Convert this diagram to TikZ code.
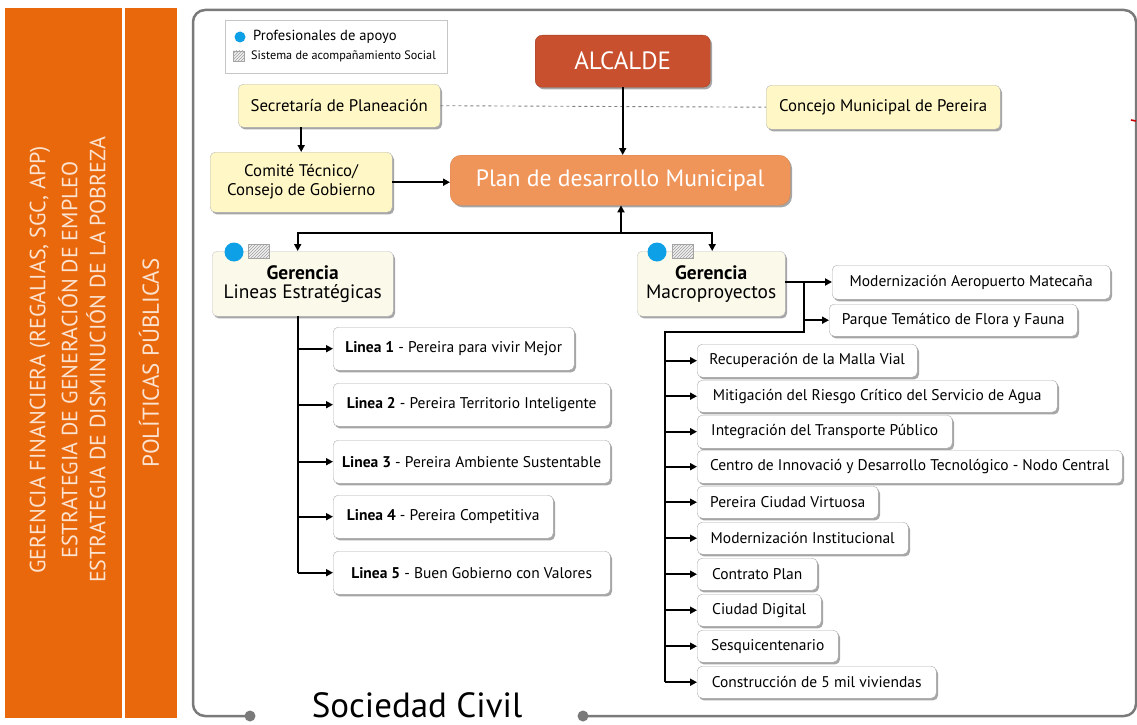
\documentclass[tikz,border=0pt]{standalone}
\usepackage{fontspec}
\setmainfont{PT Sans}
\usetikzlibrary{arrows.meta,shadows,patterns,calc}
\definecolor{barorange}{HTML}{E9680C}
\definecolor{bartext}{HTML}{FCE3D0}
\definecolor{alcred}{HTML}{C9502F}
\definecolor{planor}{HTML}{F0955A}
\definecolor{yelbox}{HTML}{FFF8C6}
\definecolor{cream}{HTML}{FBF9EA}
\definecolor{bluedot}{HTML}{0EA0E6}
\definecolor{framegray}{HTML}{7A7A7A}
\begin{document}
\begin{tikzpicture}[x=1pt,y=-1pt,
  shd/.style={drop shadow={shadow xshift=1.8pt,shadow yshift=-2.2pt,opacity=0.35,fill=black}},
  basebox/.style={shd,rounded corners=5pt,anchor=north west,inner xsep=3pt,inner ysep=0pt},
  yel/.style={basebox,draw=gray!55,fill=yelbox,font=\fontsize{16.8}{19}\selectfont},
  item/.style={basebox,draw=gray!65,fill=white,font=\fontsize{15.5}{18}\selectfont},
  ger/.style={basebox,draw=gray!45,fill=cream,font=\fontsize{19.4}{21}\selectfont,align=center},
  arr/.style={-{Triangle[length=7pt,width=7pt]},line width=1.8pt},
  ln/.style={line width=1.8pt},
  hatch/.style={draw=gray!70,fill=gray!12,postaction={pattern=north east lines,pattern color=gray!75},inner sep=0pt},
  dot/.style={circle,fill=bluedot,inner sep=0pt},
  bartxt/.style={rotate=90,text=bartext,font=\fontsize{22}{24}\selectfont}]
\useasboundingbox (0,0) rectangle (1137,725);
% side bars
\fill[barorange] (5,8) rectangle (122,718);
\fill[barorange] (125,8) rectangle (177,718);
\node[bartxt] (b1) at (40,360) {GERENCIA FINANCIERA (REGALIAS, SGC, APP)};
\node[bartxt] (b2) at (68,360) {ESTRATEGIA DE GENERACIÓN DE EMPLEO};
\node[bartxt] (b3) at (96,360) {ESTRATEGIA DE DISMINUCIÓN DE LA POBREZA};
\node[bartxt,font=\fontsize{23}{25}\selectfont] (b4) at (149,363) {POLÍTICAS PÚBLICAS};
% frame
\draw[framegray,line width=2.5pt,rounded corners=12pt] (250,716) -- (193,716) -- (193,10) -- (1136,10) -- (1136,716) -- (583,716);
\fill[framegray] (250,716) circle (5.5pt);
\fill[framegray] (583,716) circle (5.5pt);
\node[anchor=base,font=\fontsize{35}{37}\selectfont,inner sep=0pt] (soc) at (417,717) {Sociedad Civil};
\draw[red!80!black,line width=1.6pt] (1131,120) -- (1136,121);
% legend
\draw[gray!45,fill=white] (225,20) rectangle (447,73);
\node[dot,minimum size=11pt] (ld) at (240,37) {};
\node[anchor=west,font=\fontsize{14.6}{16}\selectfont,inner sep=0pt] (lt1) at (253,37) {Profesionales de apoyo};
\node[hatch,minimum width=11pt,minimum height=10pt] (lh) at (239,56) {};
\node[anchor=west,font=\fontsize{12.2}{14}\selectfont,inner sep=0pt] (lt2) at (251,56) {Sistema de acompañamiento Social};
% top boxes
\node[yel,minimum width=202pt,minimum height=43pt] (sec) at (238,84) {Secretaría de Planeación};
\node[yel,minimum width=234pt,minimum height=44pt] (con) at (766,85) {Concejo Municipal de Pereira};
\node[yel,minimum width=182pt,minimum height=60pt,align=center] (com) at (210,152) {Comité Técnico/\\Consejo de Gobierno};
\node[basebox,draw=alcred!80!black,fill=alcred,text=white,font=\fontsize{25}{28}\selectfont,minimum width=175pt,minimum height=52pt,rounded corners=7pt] (alc) at (535,35) {ALCALDE};
\node[basebox,draw=planor!90!black,fill=planor,text=white,font=\fontsize{23.6}{27}\selectfont,minimum width=340pt,minimum height=50pt,rounded corners=11pt] (plan) at (450,155) {Plan de desarrollo Municipal};
% gerencias
\node[ger,minimum width=181pt,minimum height=65pt] (gle) at (212,251) {\textbf{Gerencia}\\[-2pt]Lineas Estratégicas};
\node[ger,minimum width=148pt,minimum height=65pt] (gmp) at (637,251) {\textbf{Gerencia}\\[-2pt]Macroproyectos};
\node[dot,minimum size=19pt] (d1) at (234,252) {};
\node[hatch,minimum width=21pt,minimum height=14pt] (h1) at (259,251) {};
\node[dot,minimum size=19pt] (d2) at (657,252) {};
\node[hatch,minimum width=21pt,minimum height=14pt] (h2) at (683,251) {};
% lineas
\node[item,minimum width=241pt,minimum height=43pt] (l1) at (333,327) {\textbf{Linea 1} - Pereira para vivir Mejor};
\node[item,minimum width=277pt,minimum height=43pt] (l2) at (333,383) {\textbf{Linea 2} - Pereira Territorio Inteligente};
\node[item,minimum width=277pt,minimum height=43pt] (l3) at (333,440) {\textbf{Linea 3} - Pereira Ambiente Sustentable};
\node[item,minimum width=220pt,minimum height=43pt] (l4) at (333,495) {\textbf{Linea 4} - Pereira Competitiva};
\node[item,minimum width=277pt,minimum height=43pt] (l5) at (333,551) {\textbf{Linea 5} - Buen Gobierno con Valores};
% macroproyectos
\node[item,minimum width=278pt,minimum height=34pt] (mod) at (832,265) {Modernización Aeropuerto Matecaña};
\node[item,minimum width=248pt,minimum height=32pt] (par) at (829,304) {Parque Temático de Flora y Fauna};
\node[item,minimum width=220pt,minimum height=33pt] (m1) at (697,344) {Recuperación de la Malla Vial};
\node[item,minimum width=360pt,minimum height=32pt] (m2) at (697,380) {Mitigación del Riesgo Crítico del Servicio de Agua};
\node[item,minimum width=255pt,minimum height=33pt] (m3) at (697,415) {Integración del Transporte Público};
\node[item,minimum width=425pt,minimum height=33pt] (m4) at (697,450) {Centro de Innovació y Desarrollo Tecnológico - Nodo Central};
\node[item,minimum width=181pt,minimum height=32pt] (m5) at (697,486) {Pereira Ciudad Virtuosa};
\node[item,minimum width=211pt,minimum height=32pt] (m6) at (697,522) {Modernización Institucional};
\node[item,minimum width=120pt,minimum height=32pt] (m7) at (697,558) {Contrato Plan};
\node[item,minimum width=124pt,minimum height=32pt] (m8) at (697,594) {Ciudad Digital};
\node[item,minimum width=141pt,minimum height=32pt] (m9) at (697,630) {Sesquicentenario};
\node[item,minimum width=239pt,minimum height=32pt] (m10) at (697,666) {Construcción de 5 mil viviendas};
% connectors top
\draw[dashed,gray,line width=0.9pt] (sec.east) -- (con.west);
\draw[arr] (alc.south) -- (alc.south |- plan.north);
\draw[arr] (sec.south -| com.north) -- (com.north);
\draw[arr] (com.east) -- (com.east -| plan.west);
\coordinate (split) at (621,233);
\draw[arr] (split) -- (split |- plan.south);
\draw[arr] (split) -| ([xshift=-5pt]gle.north);
\draw[arr] (split) -| ([xshift=1pt]gmp.north);
% lineas connectors
\coordinate (tl) at (298,316);
\draw[ln] (tl) -- (tl |- l5.west);
\foreach \n in {l1,l2,l3,l4,l5} \draw[arr] (tl |- \n.west) -- (\n.west);
% macro connectors
\coordinate (mb) at (804,282);
\coordinate (mj) at (804,332);
\coordinate (mt) at (665,332);
\draw[arr] (gmp.east |- mb) -- (mb) -- (mod.west |- mb);
\draw[arr] (mb |- par.west) -- (par.west);
\draw[ln] (mb) -- (mj) -- (mt) -- (mt |- m10.west);
\foreach \n in {m1,m2,m3,m4,m5,m6,m7,m8,m9,m10} \draw[arr] (mt |- \n.west) -- (\n.west);
\end{tikzpicture}
\end{document}
